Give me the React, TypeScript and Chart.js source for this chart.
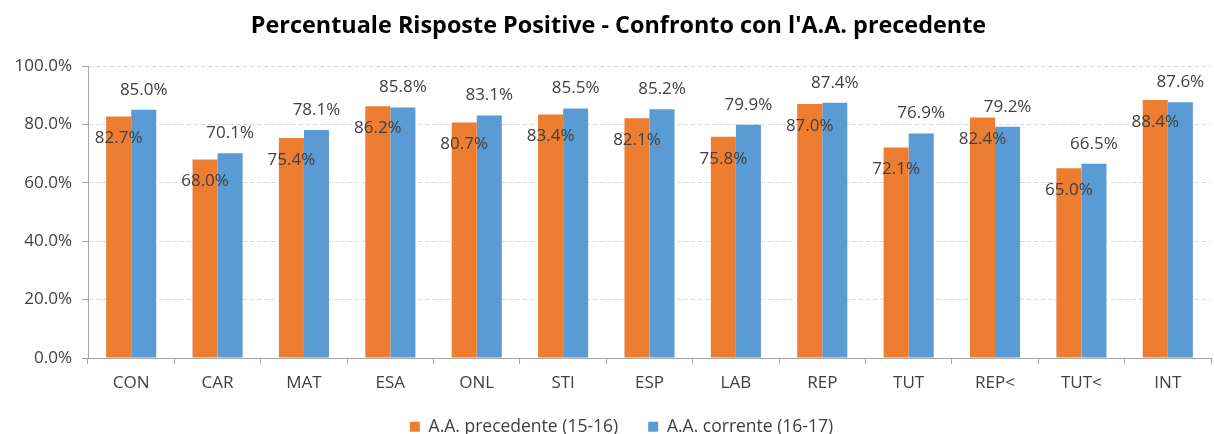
import React, { useEffect, useRef } from "react";
import { Chart, registerables } from "chart.js";

Chart.register(...registerables);

const categories = ["CON", "CAR", "MAT", "ESA", "ONL", "STI", "ESP", "LAB", "REP", "TUT", "REP<", "TUT<", "INT"];
const previousYear = [82.7, 68.0, 75.4, 86.2, 80.7, 83.4, 82.1, 75.8, 87.0, 72.1, 82.4, 65.0, 88.4];
const currentYear = [85.0, 70.1, 78.1, 85.8, 83.1, 85.5, 85.2, 79.9, 87.4, 76.9, 79.2, 66.5, 87.6];
const seriesNames = ["A.A. precedente (15-16)", "A.A. corrente (16-17)"];
const yTicks = [0, 20, 40, 60, 80, 100];
const titleText = "Percentuale Risposte Positive - Confronto con l'A.A. precedente";

const FONT = "'Open Sans', sans-serif";
const TEXT = "#404040";

export default function App() {
  const ref = useRef<HTMLCanvasElement | null>(null);

  useEffect(() => {
    document.body.style.margin = "0";
    const canvas = ref.current;
    if (!canvas) return;

    const labelPlugin = {
      id: "valueLabels",
      afterDatasetsDraw(chart: any) {
        const ctx = chart.ctx;
        ctx.save();
        ctx.font = `17px ${FONT}`;
        ctx.fillStyle = TEXT;
        ctx.textAlign = "center";
        ctx.textBaseline = "middle";
        chart.data.datasets.forEach((ds: any, di: number) => {
          const meta = chart.getDatasetMeta(di);
          meta.data.forEach((bar: any, i: number) => {
            const v = ds.data[i];
            const txt = v.toFixed(1) + "%";
            const y = di === 0 ? bar.y + 22 : bar.y - 20;
            ctx.fillText(txt, bar.x, y);
          });
        });
        ctx.restore();
      },
    };

    const legendSizer = {
      id: "legendSizer",
      afterInit(chart: any) {
        const lg = chart.legend;
        if (lg) {
          const orig = lg.fit;
          lg.fit = function () {
            orig.call(this);
            this.height = 29;
          };
          lg.draw = function () {
            if (this.options.display) this._draw();
          };
        }
      },
      afterLayout(chart: any) {
        const lg = chart.legend;
        if (lg) {
          lg.top -= 17;
          lg.bottom -= 17;
          lg.left += 32;
        }
        const tb = chart.titleBlock;
        if (tb) {
          tb.left += 26;
        }
      },
    };

    const chart = new Chart(canvas, {
      type: "bar",
      data: {
        labels: categories,
        datasets: [
          {
            label: seriesNames[0],
            data: previousYear,
            backgroundColor: "#ED7D31",
            borderWidth: 0,
            categoryPercentage: 0.58,
            barPercentage: 1,
          },
          {
            label: seriesNames[1],
            data: currentYear,
            backgroundColor: "#5B9BD5",
            borderWidth: 0,
            categoryPercentage: 0.58,
            barPercentage: 1,
          },
        ],
      },
      options: {
        responsive: false,
        animation: false,
        layout: { padding: { left: 0, right: 3, top: 0, bottom: 0 } },
        plugins: {
          title: {
            display: true,
            text: titleText,
            color: "#000000",
            font: { family: FONT, size: 23.4, weight: "bold" },
            padding: { top: 12, bottom: 26 },
          },
          legend: {
            display: true,
            position: "bottom",
            labels: {
              boxWidth: 10,
              boxHeight: 10,
              padding: 30,
              color: TEXT,
              font: { family: FONT, size: 17.5 },
            },
          },
          tooltip: { enabled: false },
        },
        scales: {
          x: {
            grid: {
              display: true,
              drawOnChartArea: false,
              drawTicks: true,
              tickLength: 6,
              color: "#a6a6a6",
              offset: true,
            },
            border: { display: true, color: "#a6a6a6", width: 1 },
            ticks: {
              color: TEXT,
              font: { family: FONT, size: 17 },
              padding: 9,
              maxRotation: 0,
              autoSkip: false,
            },
            afterFit(scale: any) {
              scale.height = 47;
            },
          },
          y: {
            min: 0,
            max: 100,
            afterBuildTicks(scale: any) {
              scale.ticks = yTicks.map((v) => ({ value: v }));
            },
            grid: {
              color: "#d9d9d9",
              tickColor: "#a6a6a6",
              tickLength: 6,
              tickBorderDash: [],
            },
            border: { display: true, color: "#a6a6a6", width: 1, dash: [4, 3] },
            ticks: {
              color: TEXT,
              font: { family: FONT, size: 17 },
              padding: 10,
              callback: (v: any) => Number(v).toFixed(1) + "%",
            },
            afterFit(scale: any) {
              scale.width = 88;
            },
          },
        },
      },
      plugins: [labelPlugin, legendSizer],
    });

    return () => chart.destroy();
  }, []);

  return (
    <div style={{ width: 1214, height: 434 }}>
      <canvas ref={ref} width={1214} height={434} style={{ width: 1214, height: 434, display: "block" }} />
    </div>
  );
}
